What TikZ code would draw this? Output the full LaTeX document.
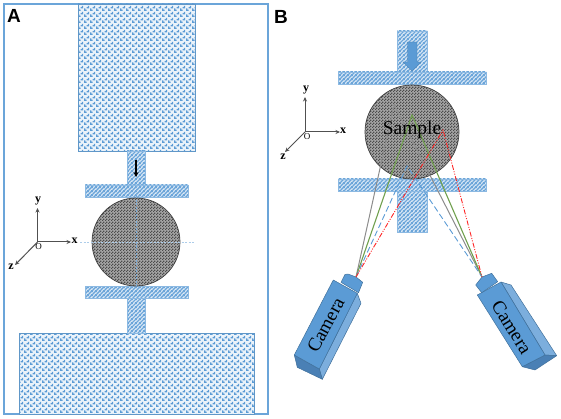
\documentclass[tikz,border=0pt]{standalone}
\usepackage{fontspec}
\setmainfont{Liberation Serif}
\newfontfamily\panelfont{Liberation Sans}
\usetikzlibrary{arrows.meta,patterns}
\definecolor{rigblue}{HTML}{5B9BD5}
\definecolor{camfront}{HTML}{5B9BD5}
\definecolor{camside}{HTML}{7CAEDD}
\definecolor{camend}{HTML}{4A80B5}
\definecolor{camedge}{HTML}{41719C}
\definecolor{axisgray}{HTML}{505050}
\definecolor{raygreen}{HTML}{70A04E}
% texture of the two large blocks
\pgfdeclarepatternformonly{blockweave}{\pgfqpoint{0pt}{0pt}}{\pgfqpoint{6pt}{6pt}}{\pgfqpoint{6pt}{6pt}}{
	\pgfpathrectangle{\pgfqpoint{0pt}{0pt}}{\pgfqpoint{3pt}{1.5pt}}
	\pgfpathrectangle{\pgfqpoint{0pt}{1.5pt}}{\pgfqpoint{1.5pt}{1.5pt}}
	\pgfpathrectangle{\pgfqpoint{3pt}{3pt}}{\pgfqpoint{3pt}{1.5pt}}
	\pgfpathrectangle{\pgfqpoint{4.5pt}{4.5pt}}{\pgfqpoint{1.5pt}{1.5pt}}
	\pgfusepath{fill}
}
% texture of rods and plates
\pgfdeclarepatternformonly{rodhatch}{\pgfqpoint{0pt}{0pt}}{\pgfqpoint{4pt}{4pt}}{\pgfqpoint{4pt}{4pt}}{
	\pgfsetlinewidth{1.6pt}
	\pgfpathmoveto{\pgfqpoint{-1pt}{-1pt}}
	\pgfpathlineto{\pgfqpoint{5pt}{5pt}}
	\pgfpathmoveto{\pgfqpoint{-1pt}{3pt}}
	\pgfpathlineto{\pgfqpoint{1pt}{5pt}}
	\pgfpathmoveto{\pgfqpoint{3pt}{-1pt}}
	\pgfpathlineto{\pgfqpoint{5pt}{1pt}}
	\pgfusepath{stroke}
}
% texture of the sample
\pgfdeclarepatternformonly{samplecheck}{\pgfqpoint{0pt}{0pt}}{\pgfqpoint{3pt}{3pt}}{\pgfqpoint{3pt}{3pt}}{
	\pgfpathrectangle{\pgfqpoint{0pt}{0pt}}{\pgfqpoint{1.5pt}{1.5pt}}
	\pgfpathrectangle{\pgfqpoint{1.5pt}{1.5pt}}{\pgfqpoint{1.5pt}{1.5pt}}
	\pgfusepath{fill}
}
\tikzset{
	block/.style={draw=rigblue!85!gray, line width=0.6pt, preaction={fill=rigblue!12}, pattern=blockweave, pattern color=rigblue},
	rod/.style={draw=rigblue!70, line width=0.5pt, preaction={fill=rigblue!10}, pattern=rodhatch, pattern color=rigblue!90},
	sample/.style={draw=black!75, line width=0.7pt, preaction={fill=black!35}, pattern=samplecheck, pattern color=black!70},
	axis/.style={-{Stealth[length=4.5pt, width=4pt]}, axisgray, line width=1pt},
	axislabel/.style={font=\fontsize{12}{12}\selectfont\bfseries, inner sep=0pt},
	panel/.style={font=\panelfont\fontsize{19}{19}\selectfont\bfseries, inner sep=0pt},
	camface/.style={draw=camedge, line width=0.5pt, line join=round},
	camlabel/.style={font=\fontsize{19}{19}\selectfont, inner sep=0pt},
	raygray/.style={draw=black!45, line width=1pt},
	raygreen/.style={draw=raygreen, line width=1.1pt},
	rayblue/.style={draw=rigblue, line width=0.9pt, dash pattern=on 6pt off 3pt},
	rayred/.style={draw=red!85, line width=0.9pt, dash pattern=on 5pt off 1.5pt on 1pt off 1.5pt on 1pt off 1.5pt},
}
\begin{document}
\begin{tikzpicture}[x=1pt,y=-1pt]
	\useasboundingbox (0,0) rectangle (561,419);
	\node[panel] (labelA) at (14,16) {A};
	\node[panel] (labelB) at (281,17) {B};
	
	% panel A
	\draw[rigblue!90, line width=1.2pt] (4,4) rectangle (268,414);
	\draw[block] (78,4) rectangle (195,151);
	\draw[block] (19,333) rectangle (254,414);
	\draw[rod] (127,151) rectangle (145.5,185);
	\draw[rod] (127,298) rectangle (145.5,333);
	\draw[rod] (85,185) rectangle (188,197.5);
	\draw[rod] (85,286) rectangle (188,298);
	\draw[sample] (136,242) circle (44);
	\draw[rigblue!50, line width=0.9pt, dash pattern=on 2pt off 1.5pt] (80,242) -- (195,242);
	\draw[rigblue!80, line width=0.6pt, dash pattern=on 2pt off 1.5pt] (136,186) -- (136,286);
	\draw[-{Stealth[length=5pt, width=5pt]}, line width=1.2pt] (136,160) -- (136,177);
	
	\coordinate (originA) at (37.5,242);
	\coordinate (yendA) at (37.5,208);
	\coordinate (xendA) at (71,242);
	\coordinate (zendA) at (15,265);
	\draw[axis] (originA) -- (yendA);
	\draw[axis] (originA) -- (xendA);
	\draw[axis] (originA) -- (zendA);
	\node[axislabel] (yA) at (38,201) {y};
	\node[axislabel] (xA) at (74.5,241) {x};
	\node[axislabel] (zA) at (11,267) {z};
	\node[font=\fontsize{9}{9}\selectfont, inner sep=0pt] (oA) at (38.5,247) {O};
	
	% panel B
	\draw[rod] (397,31) rectangle (427,72);
	\draw[rod] (397,191.5) rectangle (427,232);
	\draw[rod] (338,72) rectangle (486,84.5);
	\draw[rod] (338,179) rectangle (486,191.5);
	\draw[sample] (412,132) circle (47);
	% loading arrow
	\fill[rigblue, draw=rigblue!80!black, line width=0.3pt] (407.5,42) -- (417,42) -- (417,62) -- (421,62) -- (412,71) -- (403,62) -- (407.5,62) -- cycle;
	
	\coordinate (originB) at (305,132);
	\coordinate (yendB) at (305,97);
	\coordinate (xendB) at (340,132);
	\coordinate (zendB) at (285,152);
	\draw[axis] (originB) -- (yendB);
	\draw[axis] (originB) -- (xendB);
	\draw[axis] (originB) -- (zendB);
	\node[axislabel] (yB) at (306,90) {y};
	\node[axislabel] (xB) at (343,130.5) {x};
	\node[axislabel] (zB) at (283,157) {z};
	\node[font=\fontsize{9}{9}\selectfont, inner sep=0pt] (oB) at (307,137) {O};
	
	% cameras
	\coordinate (camL) at (356,277);
	\coordinate (camR) at (482,277);
	\begin{scope}[camface]
		\draw[fill=camside] (357.3,293.3) -- (361,303.3) -- (322.3,379.3) -- (319.3,369) -- cycle;
		\draw[fill=camend] (294.3,355) -- (297.3,367.3) -- (322.3,379.3) -- (319.3,369) -- cycle;
		\draw[fill=camfront] (333.3,280) -- (357.3,293.3) -- (319.3,369) -- (294.3,355) -- cycle;
		\draw[fill=camfront] (341,282.3) -- (345,274.5) -- (348,274) -- (356,277) -- (362.7,282.3) -- (358.5,292.7) -- cycle;
		\draw[fill=camside] (501,282) -- (511,285) -- (556.7,355.7) -- (545,355) -- cycle;
		\draw[fill=camend] (522.3,366.7) -- (535,370) -- (556.7,355.7) -- (545,355) -- cycle;
		\draw[fill=camfront] (477.3,295) -- (501,282) -- (545,355) -- (522.3,366.7) -- cycle;
		\draw[fill=camfront] (475.7,285) -- (482,277) -- (491.7,273.3) -- (497.7,281.7) -- (481.7,292.7) -- cycle;
	\end{scope}
	\node[camlabel, rotate=62] (cameraL) at (325.7,325) {Camera};
	\node[camlabel, rotate=-58] (cameraR) at (511.7,327.3) {Camera};
	
	% rays from the sample to the cameras
	\coordinate (hitgray) at (394,105);
	\coordinate (hitgreen) at (412,115);
	\coordinate (hitblue) at (407,166);
	\coordinate (hitred) at (443,130);
	\draw[raygray] (camL) -- (hitgray) -- (camR);
	\draw[raygreen] (camL) -- (hitgreen) -- (camR);
	\draw[rayblue] (camL) -- (hitblue) -- (camR);
	\draw[rayred] (camL) -- (hitred) -- (camR);
	\node[font=\fontsize{19.5}{19.5}\selectfont, inner sep=0pt] (samplelabel) at (412,130) {Sample};
\end{tikzpicture}
\end{document}
